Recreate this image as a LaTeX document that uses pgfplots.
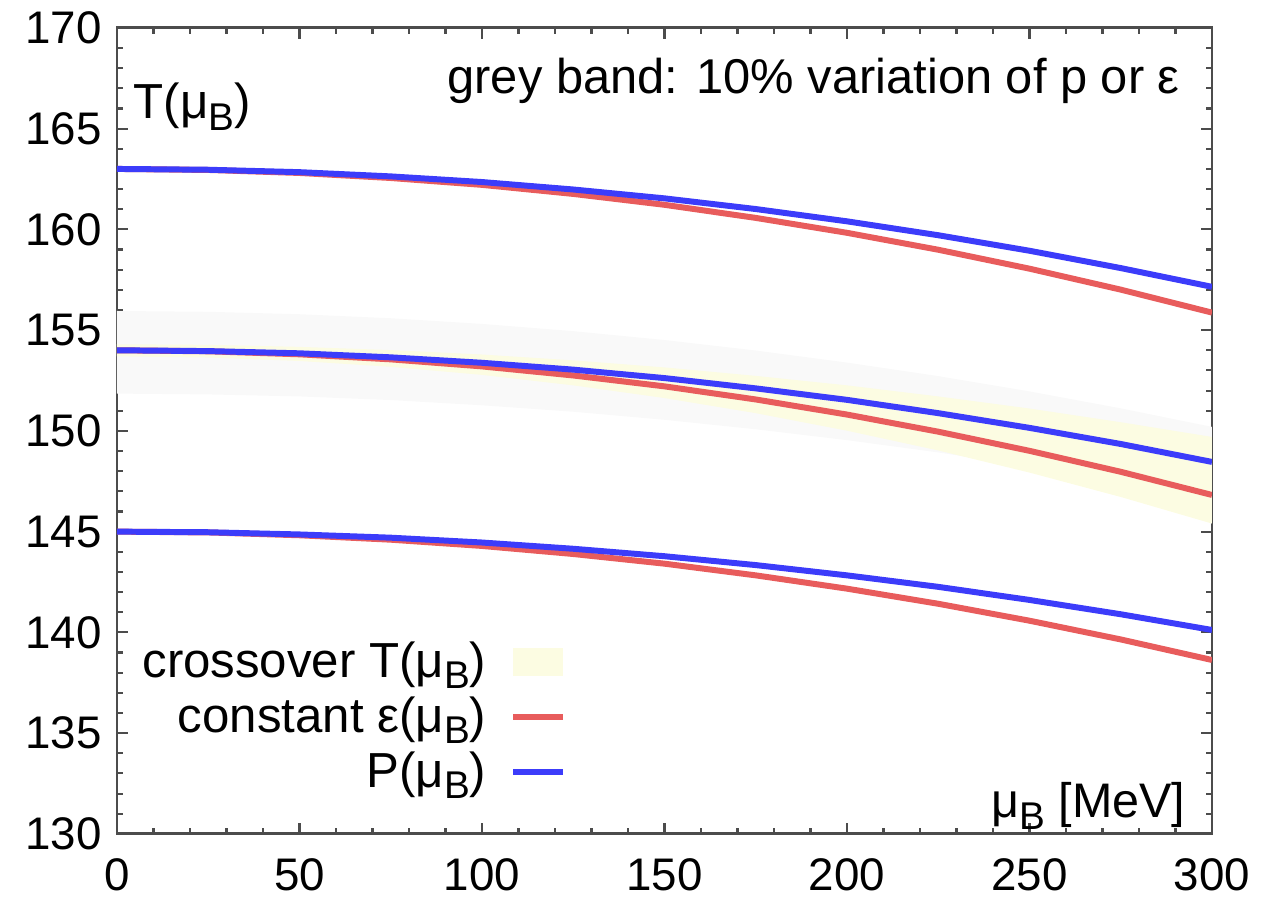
\documentclass[border=0pt]{standalone}
\usepackage{fontspec}
\setmainfont{Liberation Sans}
\usepackage{pgfplots}
\pgfplotsset{compat=1.18}
\definecolor{cred}{RGB}{232,92,92}
\definecolor{cblue}{RGB}{60,60,250}
\definecolor{cgrey}{RGB}{249,249,249}
\definecolor{cyel}{RGB}{252,252,226}
\newcommand{\sB}{\raisebox{-0.45ex}{\fontsize{11}{11}\selectfont B}}
\begin{document}
\begin{tikzpicture}
\begin{axis}[
  scale only axis, width=10.95cm, height=8.06cm,
  xmin=0, xmax=300, ymin=130, ymax=170,
  xtick={0,50,...,300}, ytick={130,135,...,170},
  minor x tick num=4, minor y tick num=4,
  tick align=inside, xtick pos=both, ytick pos=both,
  major tick length=0.11cm, minor tick length=0.06cm,
  axis line style={black!70, line width=0.8pt},
  tick style={black!70, line width=0.6pt},
  /pgf/number format/assume math mode=true,
  ticklabel style={font=\fontsize{13}{15}\selectfont},
  yticklabel style={xshift=-0.03cm},
  xticklabel style={yshift=-0.12cm},
  legend plot pos=right, legend cell align=right,
  legend style={at={(0.411,0.042)}, anchor=south east, draw=none, fill=none,
    font=\fontsize{14}{16}\selectfont, row sep=0pt, column sep=0.17cm, inner sep=0pt},
]
% grey band
\addplot[draw=none, fill=cgrey, forget plot] coordinates {
 (0,155.95) (25,155.91) (50,155.79) (75,155.59) (100,155.31) (125,154.95) (150,154.51)
 (175,153.99) (200,153.39) (225,152.72) (250,151.96) (275,151.12) (300,150.20)
 (300,146.65) (275,147.48) (250,148.24) (225,148.93) (200,149.54) (175,150.08)
 (150,150.55) (125,150.95) (100,151.27) (75,151.53) (50,151.71) (25,151.81) (0,151.85)
} -- cycle;
% yellow crossover band
\addplot[draw=none, fill=cyel,
  legend image code/.code={\fill[cyel] (0cm,-0.14cm) rectangle (0.5cm,0.14cm);}] coordinates {
 (0,154.30) (25,154.27) (50,154.17) (75,154.01) (100,153.79) (125,153.50) (150,153.15)
 (175,152.73) (200,152.26) (225,151.71) (250,151.11) (275,150.43) (300,149.70)
 (300,145.40) (275,146.72) (250,147.93) (225,149.03) (200,150.01) (175,150.88)
 (150,151.63) (125,152.26) (100,152.78) (75,153.18) (50,153.47) (25,153.64) (0,153.70)
} -- cycle;
\addlegendentry{crossover T(μ\sB)}
% red curves
\addplot[cred, line width=1.7pt,
  legend image code/.code={\draw[cred, line width=1.7pt] (0cm,0cm) -- (0.5cm,0cm);}] coordinates {
 (0,163.00) (25,162.95) (50,162.80) (75,162.55) (100,162.21) (125,161.76) (150,161.22)
 (175,160.57) (200,159.83) (225,158.99) (250,158.05) (275,157.01) (300,155.87)};
\addlegendentry{constant ε(μ\sB)}
\addplot[cred, line width=1.7pt, forget plot] coordinates {
 (0,154.00) (25,153.95) (50,153.80) (75,153.55) (100,153.20) (125,152.75) (150,152.21)
 (175,151.56) (200,150.81) (225,149.96) (250,149.01) (275,147.97) (300,146.82)};
\addplot[cred, line width=1.7pt, forget plot] coordinates {
 (0,145.00) (25,144.96) (50,144.82) (75,144.60) (100,144.29) (125,143.89) (150,143.41)
 (175,142.83) (200,142.17) (225,141.42) (250,140.58) (275,139.65) (300,138.63)};
% blue curves
\addplot[cblue, line width=1.7pt,
  legend image code/.code={\draw[cblue, line width=1.7pt] (0cm,0cm) -- (0.5cm,0cm);}] coordinates {
 (0,163.00) (25,162.96) (50,162.84) (75,162.63) (100,162.35) (125,161.98) (150,161.54)
 (175,161.01) (200,160.40) (225,159.71) (250,158.94) (275,158.08) (300,157.15)};
\addlegendentry{P(μ\sB)}
\addplot[cblue, line width=1.7pt, forget plot] coordinates {
 (0,154.00) (25,153.96) (50,153.85) (75,153.65) (100,153.38) (125,153.04) (150,152.62)
 (175,152.11) (200,151.54) (225,150.88) (250,150.15) (275,149.35) (300,148.46)};
\addplot[cblue, line width=1.7pt, forget plot] coordinates {
 (0,145.00) (25,144.97) (50,144.86) (75,144.70) (100,144.46) (125,144.15) (150,143.78)
 (175,143.34) (200,142.83) (225,142.26) (250,141.61) (275,140.90) (300,140.12)};
\node[anchor=base west, font=\fontsize{14}{16}\selectfont] at (rel axis cs:0.004,0.887) {T(μ\sB)};
\node[anchor=base east, font=\fontsize{13.9}{16}\selectfont] at (rel axis cs:0.982,0.918) {grey band: 10\% variation of p or ε};
\node[anchor=base east, font=\fontsize{13.8}{16}\selectfont] at (rel axis cs:0.987,0.02) {μ\sB{} [MeV]};
\coordinate (sw) at (rel axis cs:0,0);
\end{axis}
\path (sw) ++(-1.17cm,-0.70cm) rectangle ++(12.66cm,9.03cm);
\end{tikzpicture}
\end{document}
